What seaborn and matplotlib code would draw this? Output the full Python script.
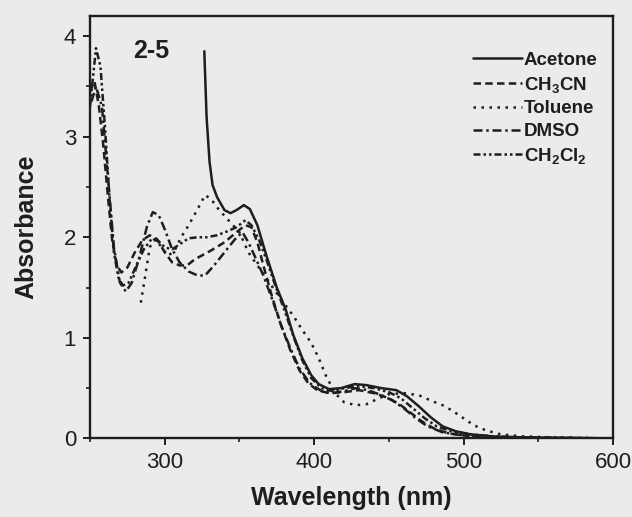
import numpy as np
import pandas as pd
import matplotlib
matplotlib.use("Agg")
import matplotlib.pyplot as plt
from matplotlib.ticker import MultipleLocator
import seaborn as sns

# ---- data ----
acetone_wl = [326.5, 328, 330, 332, 335, 340, 344, 348, 353, 357, 362, 368, 375, 381, 386, 392, 398, 403,
              410, 418, 427, 435, 445, 455, 462, 470, 478, 486, 495, 505, 520, 540, 560, 600]
acetone_ab = [3.85, 3.2, 2.75, 2.52, 2.40, 2.27, 2.24, 2.27, 2.32, 2.28, 2.12, 1.82, 1.50, 1.28, 1.03, 0.80, 0.63, 0.54,
              0.49, 0.50, 0.54, 0.53, 0.50, 0.48, 0.42, 0.32, 0.21, 0.12, 0.07, 0.04, 0.02, 0.01, 0.005, 0.0]

ch3cn_wl = [250, 253, 256, 259, 262, 265, 268, 271, 275, 280, 285, 290, 295, 300, 305, 310, 315, 320, 330, 340,
            348, 354, 358, 362, 366, 372, 378, 384, 390, 396, 402, 410, 420, 430, 440, 450, 458, 465, 472, 480,
            490, 500, 520, 600]
ch3cn_ab = [3.45, 3.55, 3.3, 2.9, 2.4, 1.95, 1.72, 1.65, 1.70, 1.85, 1.97, 2.02, 1.98, 1.85, 1.75, 1.72, 1.72, 1.78,
            1.86, 1.95, 2.05, 2.12, 2.10, 1.95, 1.72, 1.40, 1.12, 0.88, 0.68, 0.55, 0.48, 0.45, 0.46, 0.48, 0.45,
            0.40, 0.33, 0.25, 0.17, 0.10, 0.05, 0.03, 0.01, 0.0]

toluene_wl = [284, 287, 290, 293, 297, 302, 306, 311, 316, 322, 327, 331, 336, 342, 350, 356, 362, 370, 378, 386,
              392, 398, 403, 408, 414, 420, 428, 435, 442, 450, 460, 470, 479, 486, 492, 500, 507, 515, 525, 540,
              560, 600]
toluene_ab = [1.35, 1.62, 1.90, 1.98, 1.92, 1.82, 1.85, 2.00, 2.12, 2.28, 2.42, 2.38, 2.28, 2.18, 2.05, 1.85, 1.72,
              1.55, 1.38, 1.22, 1.08, 0.95, 0.80, 0.62, 0.45, 0.36, 0.33, 0.34, 0.39, 0.44, 0.45, 0.43, 0.37, 0.33,
              0.28, 0.20, 0.13, 0.08, 0.04, 0.02, 0.01, 0.0]

dmso_wl = [251, 254, 258, 262, 266, 270, 274, 278, 283, 288, 292, 296, 300, 305, 310, 316, 322, 327, 333, 340,
           347, 352, 356, 360, 366, 372, 378, 384, 390, 397, 405, 412, 420, 428, 436, 445, 452, 460, 468, 476,
           486, 500, 520, 600]
dmso_ab = [3.35, 3.5, 3.3, 2.6, 1.9, 1.55, 1.46, 1.55, 1.80, 2.10, 2.25, 2.22, 2.08, 1.88, 1.75, 1.66, 1.62, 1.62,
           1.72, 1.85, 1.98, 2.05, 1.95, 1.82, 1.62, 1.38, 1.12, 0.90, 0.70, 0.55, 0.47, 0.45, 0.47, 0.50, 0.48,
           0.43, 0.38, 0.30, 0.20, 0.12, 0.06, 0.03, 0.01, 0.0]

ch2cl2_wl = [250, 254, 257, 260, 263, 266, 269, 272, 276, 281, 286, 291, 296, 300, 305, 310, 316, 322, 328, 335,
             342, 348, 354, 358, 363, 368, 374, 380, 386, 392, 398, 405, 412, 420, 430, 440, 450, 458, 466, 474,
             482, 492, 505, 520, 540, 600]
ch2cl2_ab = [3.3, 3.88, 3.7, 3.1, 2.4, 1.85, 1.6, 1.52, 1.55, 1.72, 1.88, 1.98, 1.96, 1.90, 1.88, 1.93, 1.99, 2.0,
             2.0, 2.02, 2.06, 2.10, 2.17, 2.12, 1.98, 1.78, 1.52, 1.28, 1.02, 0.78, 0.60, 0.50, 0.47, 0.50, 0.52,
             0.50, 0.46, 0.40, 0.30, 0.20, 0.12, 0.07, 0.04, 0.02, 0.01, 0.0]

solvents = ["Acetone", "CH3CN", "Toluene", "DMSO", "CH2Cl2"]
legend_labels = ["Acetone", "CH$_3$CN", "Toluene", "DMSO", "CH$_2$Cl$_2$"]
x_ticks = [300, 400, 500, 600]
y_ticks = [0, 1, 2, 3, 4]
panel_label = "2-5"

df = pd.concat([
    pd.DataFrame({"wl": acetone_wl, "ab": acetone_ab, "solvent": "Acetone"}),
    pd.DataFrame({"wl": ch3cn_wl, "ab": ch3cn_ab, "solvent": "CH3CN"}),
    pd.DataFrame({"wl": toluene_wl, "ab": toluene_ab, "solvent": "Toluene"}),
    pd.DataFrame({"wl": dmso_wl, "ab": dmso_ab, "solvent": "DMSO"}),
    pd.DataFrame({"wl": ch2cl2_wl, "ab": ch2cl2_ab, "solvent": "CH2Cl2"}),
], ignore_index=True)

# ---- style ----
sns.set_theme(style="ticks")
plt.rcParams["font.family"] = ["Liberation Sans", "DejaVu Sans"]
plt.rcParams["mathtext.fontset"] = "custom"
plt.rcParams["mathtext.rm"] = "Liberation Sans:bold"
plt.rcParams["mathtext.it"] = "Liberation Sans:bold"
plt.rcParams["mathtext.bf"] = "Liberation Sans:bold"

bg = "#ebebeb"
ink = "#1e1e1e"
fig = plt.figure(figsize=(6.32, 5.17), dpi=100, facecolor=bg)
ax = fig.add_axes([0.1424, 0.152, 0.8276, 0.817], facecolor=bg)

dash_map = {
    "Acetone": "",
    "CH3CN": (3.0, 1.7),
    "Toluene": (1.0, 2.2),
    "DMSO": (3.6, 1.5, 1.0, 1.5),
    "CH2Cl2": (2.8, 1.2, 1.0, 1.2, 1.0, 1.2),
}
lw = 1.8

sns.lineplot(data=df, x="wl", y="ab", style="solvent", style_order=solvents, dashes=dash_map,
             color=ink, linewidth=lw, estimator=None, ax=ax, legend=True)

ax.set_xlim(250, 600)
ax.set_ylim(0, 4.2)
ax.set_xticks(x_ticks)
ax.set_yticks(y_ticks)
ax.xaxis.set_minor_locator(MultipleLocator(50))
ax.yaxis.set_minor_locator(MultipleLocator(0.5))
ax.tick_params(which="major", direction="out", length=5, width=1.4, color=ink, labelsize=16,
               labelcolor=ink, pad=5)
ax.tick_params(which="minor", direction="out", length=3, width=1.2, color=ink)
ax.tick_params(top=False, right=False, which="both")
for s in ax.spines.values():
    s.set_linewidth(1.7)
    s.set_color(ink)

ax.set_xlabel("Wavelength (nm)", fontsize=18, fontweight="bold", color=ink, va="center")
ax.set_ylabel("Absorbance", fontsize=18, fontweight="bold", color=ink, va="center")
ax.xaxis.set_label_coords(0.5, -0.141)
ax.yaxis.set_label_coords(-0.122, 0.5)

ax.text(0.082, 0.918, panel_label, transform=ax.transAxes, fontsize=18, fontweight="bold",
        color=ink, ha="left", va="center")

handles, labs = ax.get_legend_handles_labels()
hmap = dict(zip(labs, handles))
hs = []
for s in solvents:
    h = hmap[s]
    h.set_color(ink)
    h.set_linewidth(lw)
    hs.append(h)
leg = ax.legend(hs, legend_labels, loc="upper right", bbox_to_anchor=(0.97, 0.915), frameon=False,
                prop={"size": 13.5, "weight": "bold"}, handlelength=2.6, handletextpad=0.1,
                labelspacing=0.3, borderpad=0, borderaxespad=0)
for t in leg.get_texts():
    t.set_color(ink)

fig.savefig("out.png", dpi=100, facecolor=bg)
